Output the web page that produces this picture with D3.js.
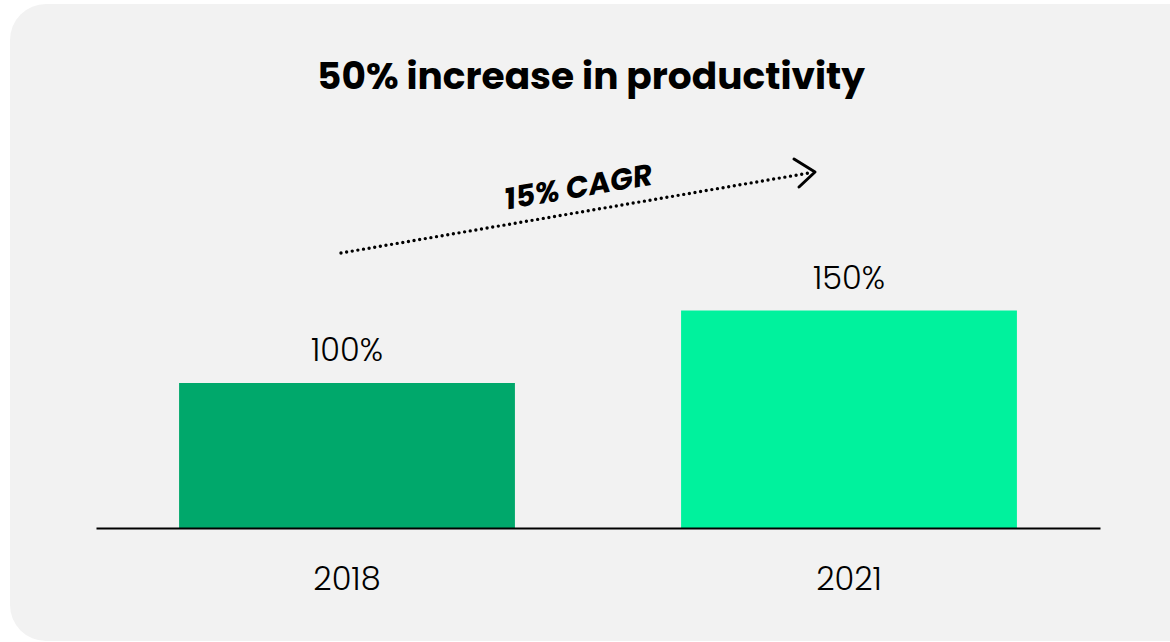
<!DOCTYPE html>
<meta charset="utf-8">
<style>
body { margin: 0; background: #fff; }
text { font-family: Poppins, Inter, "Noto Sans", sans-serif; }
.title { font-size: 37.5px; font-weight: 700; }
.val, .year { font-size: 32px; font-weight: 300; }
.cagr { font-size: 30px; font-weight: 700; font-style: italic; }
</style>
<svg width="1170" height="642"></svg>
<script src="https://d3js.org/d3.v7.min.js"></script>
<script>

var years = ["2018", "2021"];
var values = [100, 150];
var valueLabels = ["100%", "150%"];
var barColors = ["#00a86b", "#00f29d"];
var titleText = "50% increase in productivity";
var cagrText = "15% CAGR";

var svg = d3.select("svg"),
    width = +svg.attr("width"),
    height = +svg.attr("height");

// card background
svg.append("rect")
    .attr("x", 10).attr("y", 4)
    .attr("width", 1200).attr("height", 637)
    .attr("rx", 36)
    .attr("fill", "#f2f2f2");

var baseY = 528;

var x = d3.scaleBand()
    .domain(years)
    .range([96, 1100])
    .paddingInner(0.331)
    .paddingOuter(0.1655);

var y = d3.scaleLinear()
    .domain([0, 150])
    .range([baseY, baseY - 217.5]);

svg.append("text")
    .attr("class", "title")
    .attr("x", 591).attr("y", 89)
    .attr("text-anchor", "middle")
    .text(titleText);

svg.selectAll(".bar")
    .data(years)
    .enter().append("rect")
    .attr("class", "bar")
    .attr("x", function(d) { return x(d); })
    .attr("y", function(d, i) { return y(values[i]); })
    .attr("width", x.bandwidth())
    .attr("height", function(d, i) { return baseY - y(values[i]); })
    .attr("fill", function(d, i) { return barColors[i]; });

svg.selectAll(".val")
    .data(years)
    .enter().append("text")
    .attr("class", "val")
    .attr("x", function(d) { return x(d) + x.bandwidth() / 2; })
    .attr("y", function(d, i) { return y(values[i]) - 22; })
    .attr("text-anchor", "middle")
    .text(function(d, i) { return valueLabels[i]; });

// x axis: plain line with year labels
var axis = svg.append("g").attr("transform", "translate(0," + baseY + ")")
    .call(d3.axisBottom(x).tickSize(0).tickPadding(62));
axis.attr("font-family", null).attr("font-size", null);
axis.select(".domain").attr("stroke", "#000").attr("stroke-width", 2);
axis.selectAll("text")
    .attr("class", "year")
    .attr("fill", "#000")
    .attr("dy", 0);

// dotted CAGR arrow
var ax1 = 341, ay1 = 253, ax2 = 813, ay2 = 172;
svg.append("line")
    .attr("x1", ax1).attr("y1", ay1)
    .attr("x2", ax2 - 4).attr("y2", ay2 + 1)
    .attr("stroke", "#000")
    .attr("stroke-width", 3.4)
    .attr("stroke-linecap", "round")
    .attr("stroke-dasharray", "0 5.7");

svg.append("path")
    .attr("d", "M794,159 L815,172 L799,187")
    .attr("fill", "none")
    .attr("stroke", "#000")
    .attr("stroke-width", 3)
    .attr("stroke-linecap", "round")
    .attr("stroke-linejoin", "round");

var ang = Math.atan2(ay2 - ay1, ax2 - ax1) * 180 / Math.PI;
svg.append("text")
    .attr("class", "cagr")
    .attr("transform", "translate(580,197) rotate(" + ang + ")")
    .attr("text-anchor", "middle")
    .text(cagrText);

</script>
